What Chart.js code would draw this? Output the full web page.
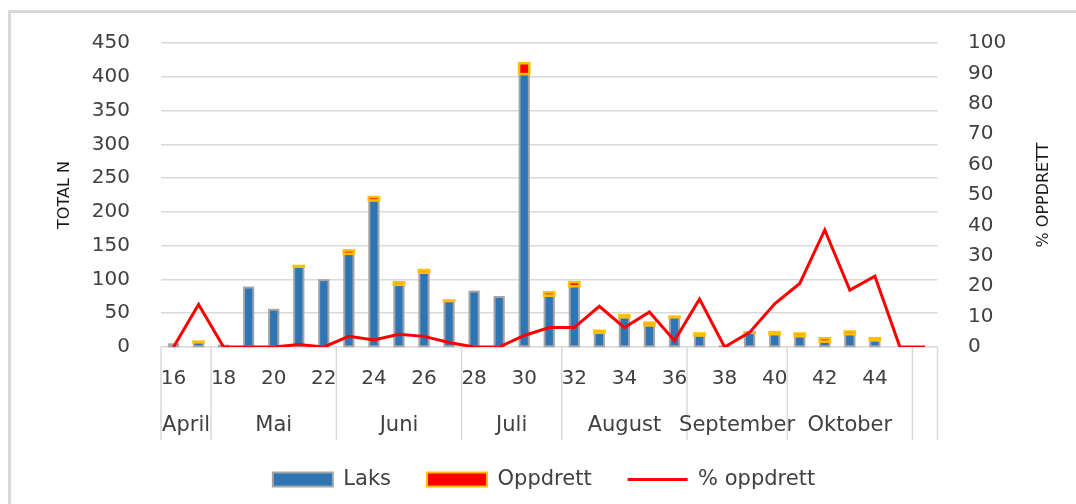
<!DOCTYPE html>
<html>
<head>
<meta charset="utf-8">
<title>Laks og oppdrett per uke</title>
<script src="https://cdn.jsdelivr.net/npm/chart.js@4.4.1/dist/chart.umd.min.js"></script>
<style>
    body { margin: 0; background: #fff; overflow: hidden; }
    #chart { display: block; }
</style>
</head>
<body>
<canvas id="chart" width="1076" height="504"></canvas>
<script>
var weeks = [16, 17, 18, 19, 20, 21, 22, 23, 24, 25, 26, 27, 28, 29, 30, 31,
    32, 33, 34, 35, 36, 37, 38, 39, 40, 41, 42, 43, 44, 45, 46];
var laks = [4, 7, 2, 88, 55, 119, 99, 138, 217, 92, 110, 68, 82, 74, 404, 76,
    90, 21, 44, 32, 44, 17, 1, 21, 19, 16, 8, 19, 10, 0, 0];
var oppdrett = [0, 1, 0, 0, 0, 1, 0, 5, 5, 4, 4, 1, 0, 0, 16, 5,
    6, 3, 3, 4, 1, 3, 0, 1, 3, 4, 5, 4, 3, 0, 0];
var pctOppdrett = [0, 14, 0, 0, 0, 0.8, 0, 3.5, 2.3, 4.2, 3.5, 1.5, 0, 0, 3.8, 6.4,
    6.4, 13.4, 6.4, 11.5, 2.1, 15.8, 0, 4.8, 14.2, 20.9, 38.5, 18.7, 23.3, 0, 0];
var months = ["April", "Mai", "Juni", "Juli", "August", "September", "Oktober", ""];
var monthSpan = [2, 5, 5, 4, 5, 4, 5, 1];

Chart.defaults.font.family = "'DejaVu Sans', sans-serif";
Chart.defaults.color = "#404040";

var legendLook = [
    { pointStyle: "rect", strokeStyle: "#a5a5a5", lineWidth: 2 },
    { pointStyle: "rect", strokeStyle: "#ffc000", lineWidth: 2 },
    { pointStyle: "line", strokeStyle: "#ff0000", lineWidth: 3 }
];
var barsDrawn = 0;

function strokeBars(chart, dsIndex, color, width) {
    var ctx = chart.ctx;
    var meta = chart.getDatasetMeta(dsIndex);
    var values = chart.data.datasets[dsIndex].data;
    ctx.save();
    ctx.strokeStyle = color;
    ctx.lineWidth = width;
    meta.data.forEach(function (bar, i) {
        if (!values[i]) return;
        var p = bar.getProps(["x", "y", "base", "width"], true);
        var top = Math.min(p.y, p.base);
        ctx.strokeRect(p.x - p.width / 2, top, p.width, Math.abs(p.base - p.y));
    });
    ctx.restore();
}

var extras = {
    id: "extras",
    beforeDraw: function (chart) {
        // chart frame, only left and top edges are visible
        var ctx = chart.ctx;
        ctx.save();
        ctx.strokeStyle = "#d9d9d9";
        ctx.lineWidth = 3;
        ctx.beginPath();
        ctx.moveTo(9.5, chart.height);
        ctx.lineTo(9.5, 11.5);
        ctx.lineTo(chart.width, 11.5);
        ctx.stroke();
        ctx.restore();
    },
    beforeDatasetsDraw: function () {
        barsDrawn = 0;
    },
    afterDatasetDraw: function (chart, args) {
        if (args.meta.type !== "bar") return;
        barsDrawn++;
        if (barsDrawn === 2) {
            strokeBars(chart, 0, "#a5a5a5", 2);
            strokeBars(chart, 1, "#ffc000", 2.5);
        }
    },
    afterDraw: function (chart) {
        var ctx = chart.ctx;
        var x = chart.scales.x;
        var area = chart.chartArea;
        var half = (x.getPixelForValue(1) - x.getPixelForValue(0)) / 2;
        ctx.save();
        // month row and separators
        ctx.strokeStyle = "#d9d9d9";
        ctx.lineWidth = 1.5;
        ctx.fillStyle = "#404040";
        ctx.font = "21px 'DejaVu Sans'";
        ctx.textAlign = "center";
        ctx.textBaseline = "middle";
        var start = 0;
        for (var m = 0; m <= months.length; m++) {
            var edge = start === 0 ? area.left : x.getPixelForValue(start) - half;
            if (start >= weeks.length) edge = area.right;
            ctx.beginPath();
            ctx.moveTo(edge, area.bottom);
            ctx.lineTo(edge, 440);
            ctx.stroke();
            if (m === months.length) break;
            var end = start + monthSpan[m] - 1;
            var cx = (x.getPixelForValue(start) + x.getPixelForValue(end)) / 2;
            ctx.fillText(months[m], cx, 426);
            start = end + 1;
        }
        // axis titles
        var cy = (area.top + area.bottom) / 2;
        ctx.fillStyle = "#1a1a1a";
        ctx.font = "16px 'DejaVu Sans'";
        ctx.translate(64.5, cy);
        ctx.rotate(-Math.PI / 2);
        ctx.fillText("TOTAL N", 0, 0);
        ctx.rotate(Math.PI / 2);
        ctx.translate(1044 - 64.5, 0);
        ctx.rotate(-Math.PI / 2);
        ctx.fillText("% OPPDRETT", 0, 0);
        ctx.restore();
    }
};

var context = document.getElementById("chart").getContext("2d");
var myChart = new Chart(context, {
    type: "bar",
    data: {
        labels: weeks,
        datasets: [{
            type: "bar",
            label: "Laks",
            data: laks,
            backgroundColor: "#2e75b6",
            borderWidth: 0,
            barPercentage: 0.37,
            categoryPercentage: 1,
            stack: "n",
            yAxisID: "y",
            order: 1
        },
        {
            type: "bar",
            label: "Oppdrett",
            data: oppdrett,
            backgroundColor: "#ff0000",
            borderWidth: 0,
            barPercentage: 0.41,
            categoryPercentage: 1,
            stack: "n",
            yAxisID: "y",
            order: 1
        },
        {
            type: "line",
            label: "% oppdrett",
            data: pctOppdrett,
            borderColor: "#ff0000",
            backgroundColor: "#ff0000",
            borderWidth: 3,
            pointRadius: 0,
            tension: 0,
            fill: false,
            yAxisID: "y1",
            order: 0
        }]
    },
    options: {
        responsive: false,
        animation: false,
        layout: { padding: { left: 12, right: 0, top: 36, bottom: 4 } },
        scales: {
            x: {
                stacked: true,
                grid: { display: false, drawTicks: false },
                border: { display: false },
                ticks: {
                    autoSkip: false,
                    maxRotation: 0,
                    padding: 20,
                    font: { size: 20 },
                    callback: function (v, i) {
                        var w = weeks[i];
                        return (w % 2 === 0 && w < 46) ? String(w) : "";
                    }
                },
                afterFit: function (s) { s.height = 86; }
            },
            y: {
                stacked: true,
                min: 0,
                max: 450,
                ticks: { stepSize: 50, padding: 31, font: { size: 20 } },
                grid: { color: "#d9d9d9", lineWidth: 1.5, drawTicks: false },
                border: { display: false },
                afterFit: function (s) { s.width = 149; }
            },
            y1: {
                position: "right",
                min: 0,
                max: 100,
                ticks: { stepSize: 10, padding: 30.5, font: { size: 20 } },
                grid: { display: false, drawTicks: false },
                border: { display: false },
                afterFit: function (s) { s.width = 138.5; }
            }
        },
        plugins: {
            legend: {
                position: "bottom",
                labels: {
                    usePointStyle: true,
                    pointStyleWidth: 60,
                    boxHeight: 14,
                    padding: 36,
                    font: { size: 21 },
                    sort: function (a, b) { return a.datasetIndex - b.datasetIndex; },
                    generateLabels: function (chart) {
                        var items = Chart.defaults.plugins.legend.labels.generateLabels(chart);
                        items.forEach(function (it) {
                            var look = legendLook[it.datasetIndex];
                            it.pointStyle = look.pointStyle;
                            it.strokeStyle = look.strokeStyle;
                            it.lineWidth = look.lineWidth;
                        });
                        return items;
                    }
                }
            },
            tooltip: { enabled: false }
        }
    },
    plugins: [extras]
});
</script>
</body>
</html>
